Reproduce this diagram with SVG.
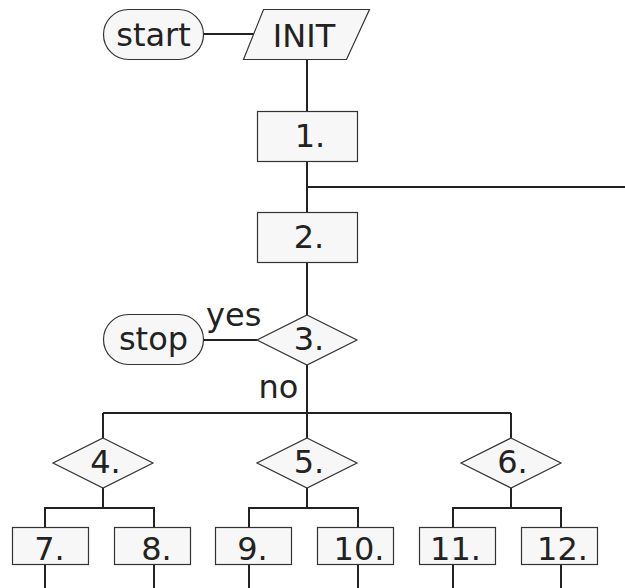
<svg xmlns="http://www.w3.org/2000/svg" width="625" height="588" viewBox="0 0 625 588">
  <style>
    .shape { fill: #f7f7f7; stroke: #333333; stroke-width: 1.2; }
    .wire { fill: none; stroke: #222222; stroke-width: 2; }
    text { font-family: "DejaVu Sans", "Noto Sans", sans-serif; font-size: 32px; fill: #222222; }
    .c { text-anchor: middle; }
  </style>
  <rect width="625" height="588" fill="#ffffff"/>

  <!-- connectors -->
  <g id="connectors" class="wire">
    <path d="M204,34 H254"/>
    <path d="M307,59 V111"/>
    <path d="M307,161 V212"/>
    <path d="M307,187 H625"/>
    <path d="M307,262 V315"/>
    <path d="M204,340 H257"/>
    <path d="M307,365 V413"/>
    <path d="M103,413 H511"/>
    <path d="M103,413 V438 M307,413 V438 M511,413 V438"/>
    <path d="M103,488 V508 M45,527 V508 H154 V527"/>
    <path d="M307,488 V508 M249,527 V508 H358 V527"/>
    <path d="M511,488 V508 M453,527 V508 H561 V527"/>
    <path d="M45,564 V588 M154,564 V588 M249,564 V588 M358,564 V588 M453,564 V588 M561,564 V588"/>
  </g>
  <g id="edge-labels">
    <text x="206" y="326">yes</text>
    <text class="c" x="278.5" y="398">no</text>
  </g>

  <!-- nodes -->
  <g id="start">
    <rect class="shape" x="103.5" y="9.5" width="100" height="50" rx="25"/>
    <text class="c" x="153.5" y="46">start</text>
  </g>
  <g id="init">
    <polygon class="shape" points="263.5,9.5 369.5,9.5 346.5,59.5 243.5,59.5"/>
    <text class="c" x="304" y="47">INIT</text>
  </g>
  <g id="n1">
    <rect class="shape" x="257.5" y="111.5" width="100" height="50"/>
    <text class="c" x="310" y="147">1.</text>
  </g>
  <g id="n2">
    <rect class="shape" x="257.5" y="212.5" width="100" height="50"/>
    <text class="c" x="309" y="248">2.</text>
  </g>
  <g id="n3">
    <polygon class="shape" points="307,315 357,340 307,365 257,340"/>
    <text class="c" x="309" y="350">3.</text>
  </g>
  <g id="stop">
    <rect class="shape" x="103.5" y="314.5" width="100" height="50" rx="25"/>
    <text class="c" x="153.5" y="350">stop</text>
  </g>
  <g id="n4">
    <polygon class="shape" points="103,438 153,463 103,488 53,463"/>
    <text class="c" x="105.5" y="473">4.</text>
  </g>
  <g id="n5">
    <polygon class="shape" points="307,438 357,463 307,488 257,463"/>
    <text class="c" x="309" y="473">5.</text>
  </g>
  <g id="n6">
    <polygon class="shape" points="511,438 561,463 511,488 461,463"/>
    <text class="c" x="512.5" y="473">6.</text>
  </g>
  <g id="n7">
    <rect class="shape" x="12.5" y="527.5" width="76" height="37"/>
    <text class="c" x="49.5" y="560">7.</text>
  </g>
  <g id="n8">
    <rect class="shape" x="114.5" y="527.5" width="76" height="37"/>
    <text class="c" x="156.5" y="560">8.</text>
  </g>
  <g id="n9">
    <rect class="shape" x="215.5" y="527.5" width="76" height="37"/>
    <text class="c" x="252.5" y="560">9.</text>
  </g>
  <g id="n10">
    <rect class="shape" x="317.5" y="527.5" width="76" height="37"/>
    <text class="c" x="359" y="560">10.</text>
  </g>
  <g id="n11">
    <rect class="shape" x="419.5" y="527.5" width="76" height="37"/>
    <text class="c" x="455.5" y="560">11.</text>
  </g>
  <g id="n12">
    <rect class="shape" x="521.5" y="527.5" width="76" height="37"/>
    <text class="c" x="562.5" y="560">12.</text>
  </g>
</svg>
